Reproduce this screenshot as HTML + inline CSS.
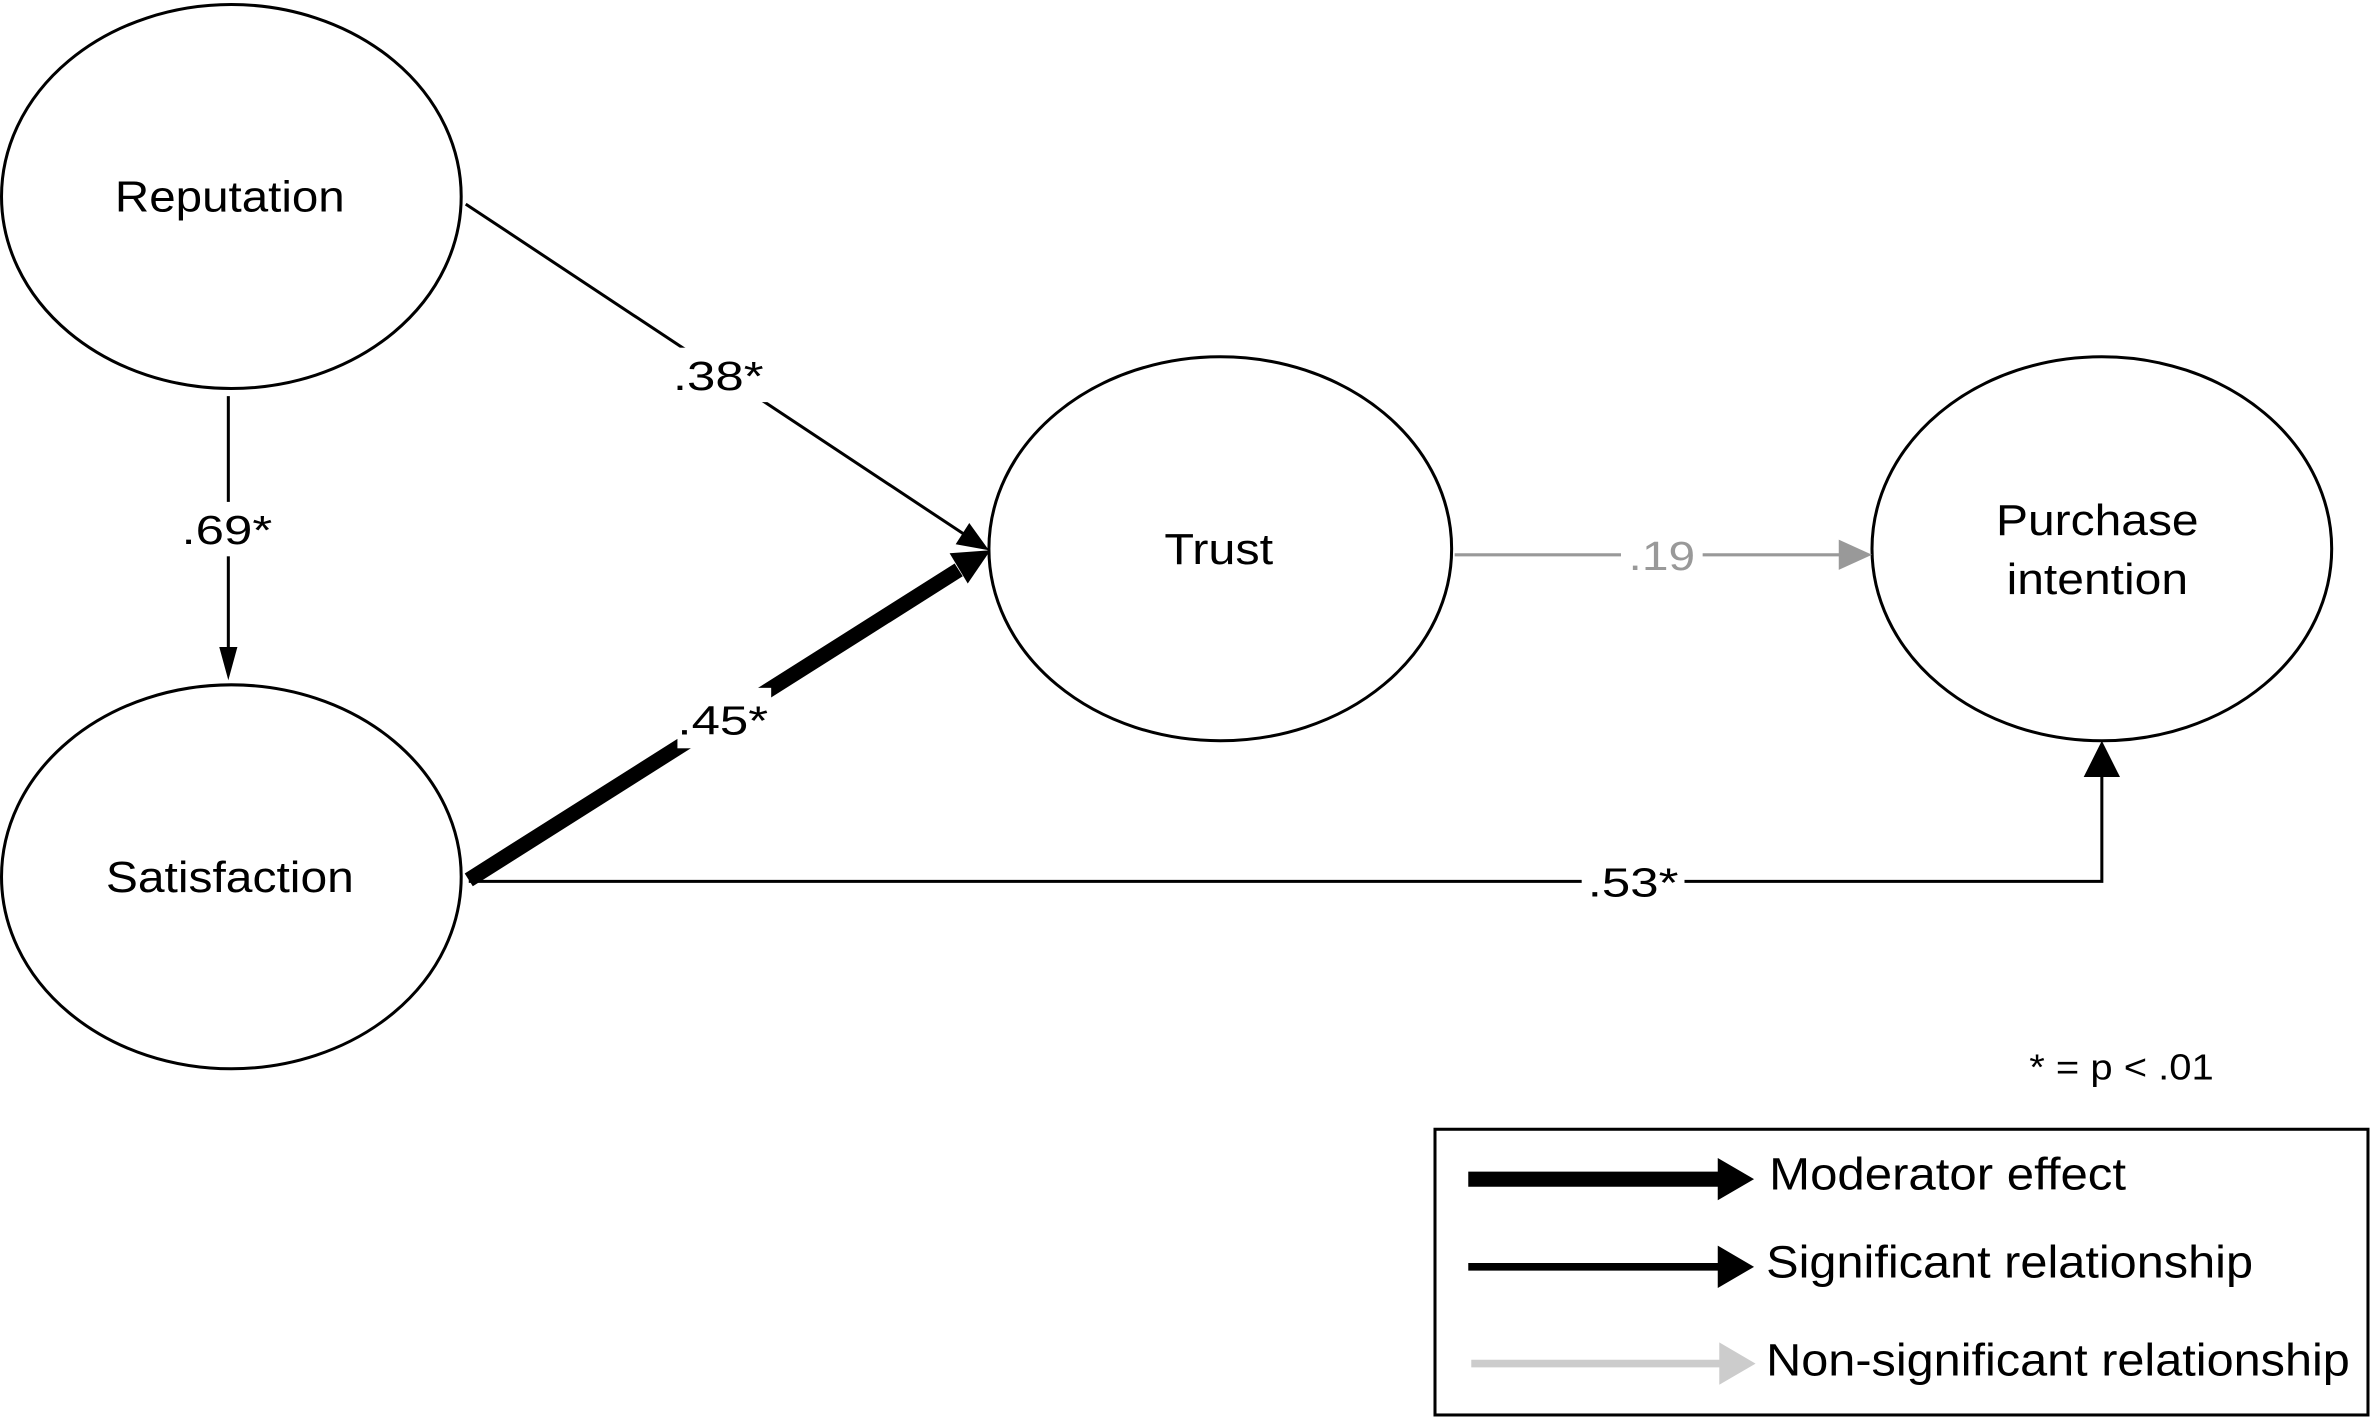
<!DOCTYPE html>
<html><head><meta charset="utf-8"><style>html,body{margin:0;padding:0;background:#fff}svg{display:block}</style></head>
<body>
<svg width="2371" height="1418" viewBox="0 0 1568 938" preserveAspectRatio="none" xmlns="http://www.w3.org/2000/svg" font-family="Liberation Sans, sans-serif">
<rect width="1568" height="938" fill="#fff"/>
<g fill="none" stroke="#000" stroke-width="2">
<ellipse cx="153" cy="130" rx="152" ry="127"/>
<ellipse cx="153" cy="580" rx="152" ry="127"/>
<ellipse cx="807" cy="363" rx="153" ry="127"/>
<ellipse cx="1390" cy="363" rx="152" ry="127"/>
</g>
<g font-size="29" text-anchor="middle" fill="#000">
<text x="152" y="140" textLength="152" lengthAdjust="spacingAndGlyphs">Reputation</text>
<text x="152" y="590" textLength="164" lengthAdjust="spacingAndGlyphs">Satisfaction</text>
<text x="806" y="373" textLength="72" lengthAdjust="spacingAndGlyphs">Trust</text>
<text x="1387" y="354" textLength="134" lengthAdjust="spacingAndGlyphs">Purchase</text>
<text x="1387" y="393" textLength="120" lengthAdjust="spacingAndGlyphs">intention</text>
</g>
<!-- Reputation -> Trust -->
<line x1="308" y1="135" x2="640" y2="355" stroke="#000" stroke-width="2"/>
<polygon points="654,364 632,360 641,346" fill="#000"/>
<!-- Reputation -> Satisfaction -->
<line x1="151" y1="262" x2="151" y2="432" stroke="#000" stroke-width="2"/>
<polygon points="151,450 145,428 157,428" fill="#000"/>
<!-- Satisfaction -> Trust thick -->
<line x1="310" y1="582" x2="634" y2="377" stroke="#000" stroke-width="10"/>
<polygon points="655,364 628,366 640,386" fill="#000"/>
<!-- Trust -> Purchase grey -->
<line x1="962" y1="367" x2="1218" y2="367" stroke="#999" stroke-width="2"/>
<polygon points="1238,367 1216,357 1216,377" fill="#999"/>
<!-- Satisfaction -> Purchase -->
<polyline points="310,583 1390,583 1390,512" fill="none" stroke="#000" stroke-width="2"/>
<polygon points="1390,490 1378,514 1402,514" fill="#000"/>
<!-- labels -->
<g font-size="27" text-anchor="middle">
<rect x="442" y="230" width="66" height="36" fill="#fff"/>
<text x="475" y="258" textLength="60" lengthAdjust="spacingAndGlyphs">.38*</text>
<rect x="116" y="332" width="68" height="36" fill="#fff"/>
<text x="150" y="360" textLength="60" lengthAdjust="spacingAndGlyphs">.69*</text>
<rect x="448" y="455" width="62" height="40" fill="#fff"/>
<text x="478" y="486" textLength="60" lengthAdjust="spacingAndGlyphs">.45*</text>
<rect x="1072" y="350" width="54" height="34" fill="#fff"/>
<text x="1099" y="377" fill="#999" textLength="44" lengthAdjust="spacingAndGlyphs">.19</text>
<rect x="1046" y="566" width="68" height="36" fill="#fff"/>
<text x="1080" y="593" textLength="60" lengthAdjust="spacingAndGlyphs">.53*</text>
</g>
<text x="1403" y="714" font-size="24" text-anchor="middle" textLength="122" lengthAdjust="spacingAndGlyphs">* = p &lt; .01</text>
<!-- legend -->
<rect x="949" y="747" width="617" height="189" fill="none" stroke="#000" stroke-width="2"/>
<line x1="971" y1="780" x2="1140" y2="780" stroke="#000" stroke-width="10"/>
<polygon points="1160,780 1136,766 1136,794" fill="#000"/>
<line x1="971" y1="838" x2="1140" y2="838" stroke="#000" stroke-width="5"/>
<polygon points="1160,838 1136,824 1136,852" fill="#000"/>
<line x1="973" y1="902" x2="1140" y2="902" stroke="#ccc" stroke-width="5"/>
<polygon points="1161,902 1137,888 1137,916" fill="#ccc"/>
<g font-size="30">
<text x="1170" y="787" textLength="236" lengthAdjust="spacingAndGlyphs">Moderator effect</text>
<text x="1168" y="845" textLength="322" lengthAdjust="spacingAndGlyphs">Significant relationship</text>
<text x="1168" y="910" textLength="386" lengthAdjust="spacingAndGlyphs">Non-significant relationship</text>
</g>
</svg>
</body></html>
